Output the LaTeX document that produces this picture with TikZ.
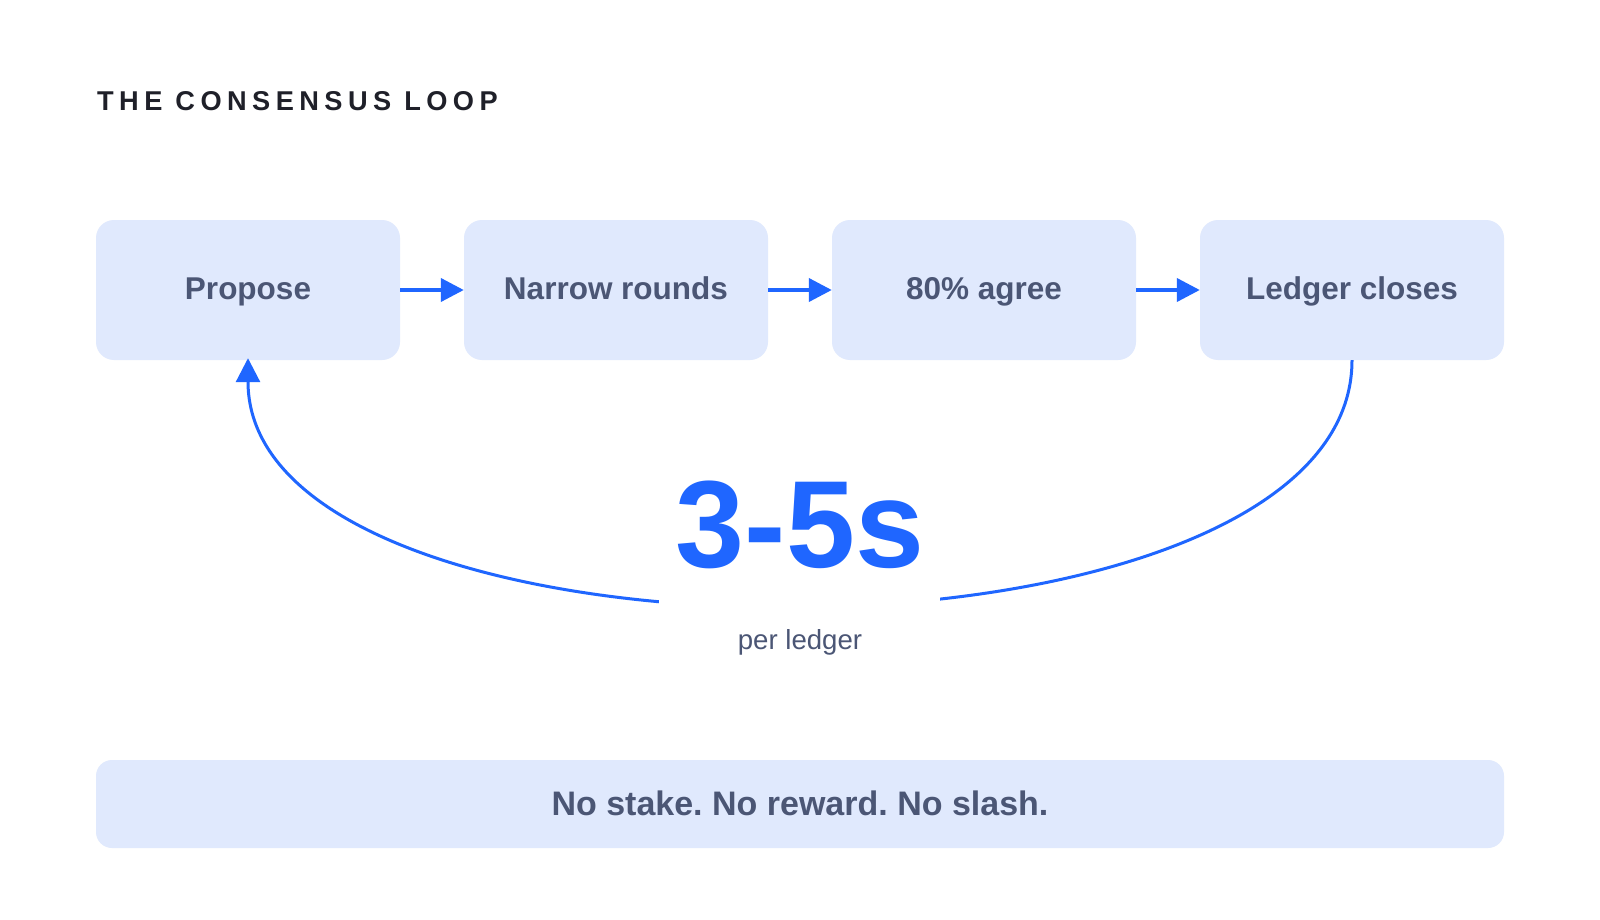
\documentclass[tikz,border=0pt]{standalone}
\usepackage{fontspec}
\setmainfont{Liberation Sans}
\newfontfamily\titlefont[LetterSpace=20]{Liberation Sans}
\usetikzlibrary{arrows.meta}
\definecolor{boxfill}{HTML}{E0E9FD}
\definecolor{labeltext}{HTML}{4B5675}
\definecolor{accent}{HTML}{1F66FF}
\definecolor{titletext}{HTML}{1F2029}
\frenchspacing
\begin{document}
\begin{tikzpicture}[x=1pt,y=-1pt,
  stepbox/.style={fill=boxfill, rounded corners=18pt, minimum width=304pt, minimum height=140pt, inner sep=0pt, draw=none},
  steptext/.style={text=labeltext, font=\fontsize{31.5}{36}\selectfont\bfseries, anchor=base, inner sep=0pt},
  flow/.style={draw=accent, line width=4pt, -{Triangle[length=23pt,width=23pt]}},
  loopline/.style={draw=accent, line width=3pt, -{Triangle[length=24pt,width=24pt]}}]
\useasboundingbox[fill=white] (0,0) rectangle (1600,920);

\node[anchor=base west, inner sep=0pt, font=\titlefont\fontsize{27.2}{32}\selectfont\bfseries, text=titletext] (title) at (97,111) {THE CONSENSUS LOOP};

\node[stepbox] (propose) at (248,290) {};
\node[stepbox] (narrow) at (616,290) {};
\node[stepbox] (agree) at (984,290) {};
\node[stepbox] (ledger) at (1352,290) {};
\node[steptext] (tpropose) at (248,299) {Propose};
\node[steptext] (tnarrow) at (616,299) {Narrow rounds};
\node[steptext] (tagree) at (984,299) {80\% agree};
\node[steptext] (tledger) at (1352,299) {Ledger closes};

\draw[flow] (propose.east) -- (narrow.west);
\draw[flow] (narrow.east) -- (agree.west);
\draw[flow] (agree.east) -- (ledger.west);

\draw[loopline, shorten >=-2pt] (ledger.south) .. controls +(0,326) and +(0,326) .. (propose.south);

\fill[white] (659,470) rectangle (940,625);
\node[anchor=base, inner sep=0pt, text=accent, font=\fontsize{124}{130}\selectfont\bfseries] (big) at (800,567) {3-5s};
\node[anchor=base, inner sep=0pt, text=labeltext, font=\fontsize{27.6}{32}\selectfont] (per) at (800,649) {per ledger};

\node[fill=boxfill, rounded corners=16pt, minimum width=1408pt, minimum height=88pt, inner sep=0pt] (note) at (800,804) {};
\node[anchor=base, inner sep=0pt, text=labeltext, font=\fontsize{34}{40}\selectfont\bfseries] (tnote) at (800,815) {No stake. No reward. No slash.};
\end{tikzpicture}
\end{document}
